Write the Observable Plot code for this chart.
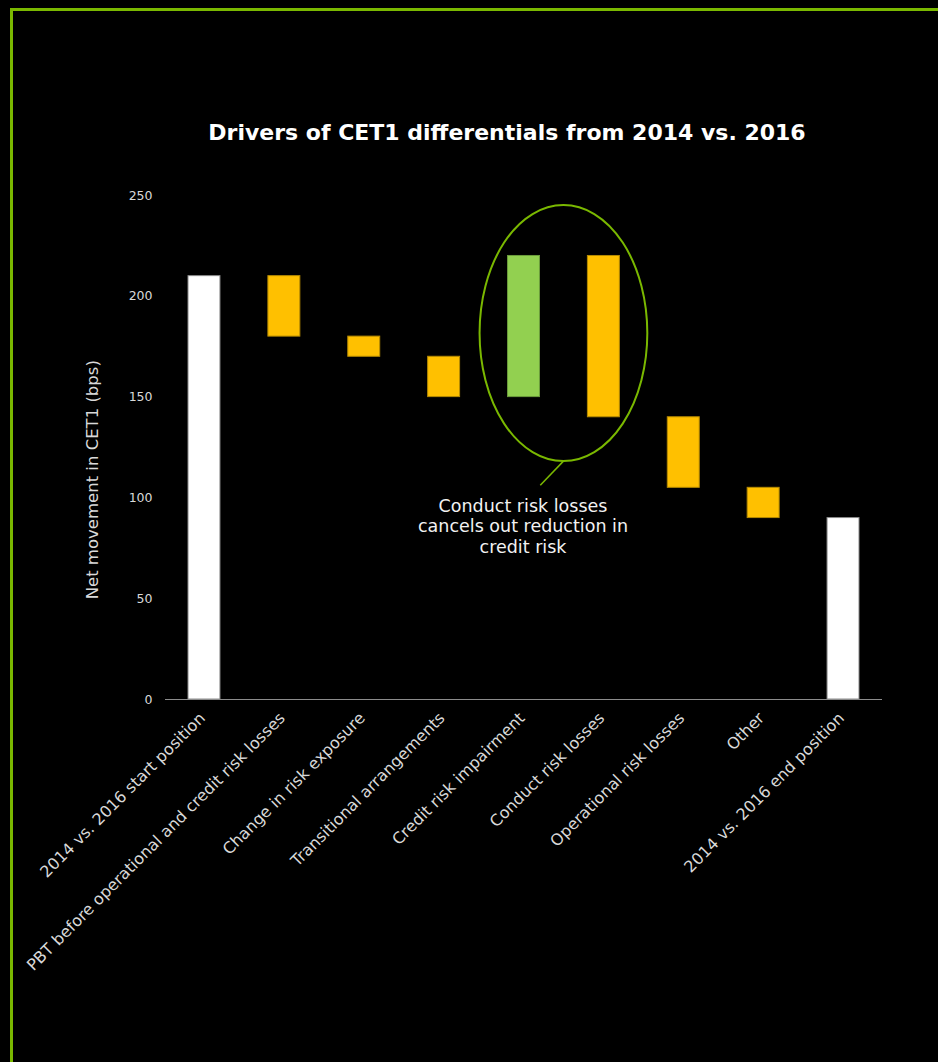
<!DOCTYPE html>
<html>
<head>
<meta charset="utf-8">
<script src="https://cdn.jsdelivr.net/npm/d3@7"></script>
<script src="https://cdn.jsdelivr.net/npm/@observablehq/plot@0.6"></script>
<style>
  html, body { margin: 0; padding: 0; background: #000; }
  body { width: 938px; height: 1062px; overflow: hidden; position: relative; font-family: "DejaVu Sans", Verdana, sans-serif; }
  #frame { position: absolute; left: 10px; top: 8px; width: 1000px; height: 1100px; border: 3px solid #7ab800; pointer-events: none; }
  #titlebox { position: relative; height: 170px; }
  #title { position: absolute; left: 507px; top: 120px; transform: translateX(-50%); white-space: nowrap; font-weight: bold; font-size: 22px; color: #fff; }
  #chart svg { display: block; }
</style>
</head>
<body>
<div id="titlebox"><div id="title">Drivers of CET1 differentials from 2014 vs. 2016</div></div>
<div id="chart"></div>
<div id="frame"></div>
<script>
// ---- data ----
const categories = [
  "2014 vs. 2016 start position",
  "PBT before operational and credit risk losses",
  "Change in risk exposure",
  "Transitional arrangements",
  "Credit risk impairment",
  "Conduct risk losses",
  "Operational risk losses",
  "Other",
  "2014 vs. 2016 end position"
];
const barStart = [0, 210, 180, 170, 150, 220, 140, 105, 0];
const barEnd   = [210, 180, 170, 150, 220, 140, 105, 90, 90];
const barKind  = ["total", "decrease", "decrease", "decrease", "increase", "decrease", "decrease", "decrease", "total"];
const yTicks = [0, 50, 100, 150, 200, 250];
const yLabel = "Net movement in CET1 (bps)";
const noteText = "Conduct risk losses\ncancels out reduction in\ncredit risk";

// ---- styles ----
const kindFill   = {total: "#ffffff", decrease: "#ffc000", increase: "#92d050"};
const kindStroke = {total: "#8a8a8a", decrease: "#b58a00", increase: "#6c9c3c"};
const accent = "#7ab800";

const rows = categories.map((c, i) => ({cat: c, y1: barStart[i], y2: barEnd[i], kind: barKind[i]}));

// annotation ellipse (in data units / band steps)
const ell = {from: 4, to: 5, cy: 181.5, yTop: 245, yBottom: 118, rxSteps: 1.05, tailDx: -0.29, tailY: 106};

function ellipseMark(index, scales, values, dimensions, context) {
  const x = scales.x, y = scales.y;
  const a = x(categories[ell.from]), b = x(categories[ell.to]);
  const bw = x.bandwidth ? x.bandwidth() : 0;
  const step = b - a;
  const cx = (a + b + bw) / 2;
  const ry = (y(ell.yBottom) - y(ell.yTop)) / 2;
  const rx = ell.rxSteps * step;
  const g = d3.create("svg:g");
  g.append("ellipse").attr("cx", cx).attr("cy", (y(ell.yBottom) + y(ell.yTop)) / 2)
    .attr("rx", rx).attr("ry", ry).attr("fill", "none").attr("stroke", accent).attr("stroke-width", 2);
  g.append("line").attr("x1", cx).attr("y1", y(ell.yBottom))
    .attr("x2", cx + ell.tailDx * step).attr("y2", y(ell.tailY))
    .attr("stroke", accent).attr("stroke-width", 1.5);
  return g.node();
}

const chart = Plot.plot({
  width: 938,
  height: 892,
  marginTop: 25,
  marginBottom: 363,
  marginLeft: 165,
  marginRight: 56,
  style: {background: "transparent", color: "#d9d9d9", fontFamily: "DejaVu Sans, Verdana, sans-serif"},
  x: {domain: categories, paddingInner: 0.6, paddingOuter: 0.288, round: false, axis: null},
  y: {domain: [0, 250], axis: null},
  marks: [
    Plot.ruleY([0], {stroke: "#8c8c8c", strokeWidth: 1}),
    ...Object.keys(kindFill).map(k =>
      Plot.barY(rows.filter(d => d.kind === k), {x: "cat", y1: "y1", y2: "y2", fill: kindFill[k], stroke: kindStroke[k], strokeWidth: 1})
    ),
    Plot.axisY({ticks: yTicks, tickSize: 0, tickPadding: 13, fontSize: 12.5, fill: "#d9d9d9", label: null}),
    Plot.axisX({tickRotate: -45, tickSize: 0, tickPadding: 16, dx: -2, fontSize: 16, fill: "#d9d9d9", label: null}),
    Plot.text([yLabel], {text: d => d, frameAnchor: "left", textAnchor: "middle", y: 109, dx: -73, rotate: -90, fontSize: 16.5, fill: "#d9d9d9"}),
    Plot.text([{cat: categories[4], label: noteText}], {text: "label", x: "cat", y: () => 100, dx: -1, dy: -1, lineAnchor: "top", fontSize: 17.5, lineHeight: 1.18, fill: "#f2f2f2"}),
    ellipseMark
  ]
});
document.getElementById("chart").appendChild(chart);
</script>
</body>
</html>
